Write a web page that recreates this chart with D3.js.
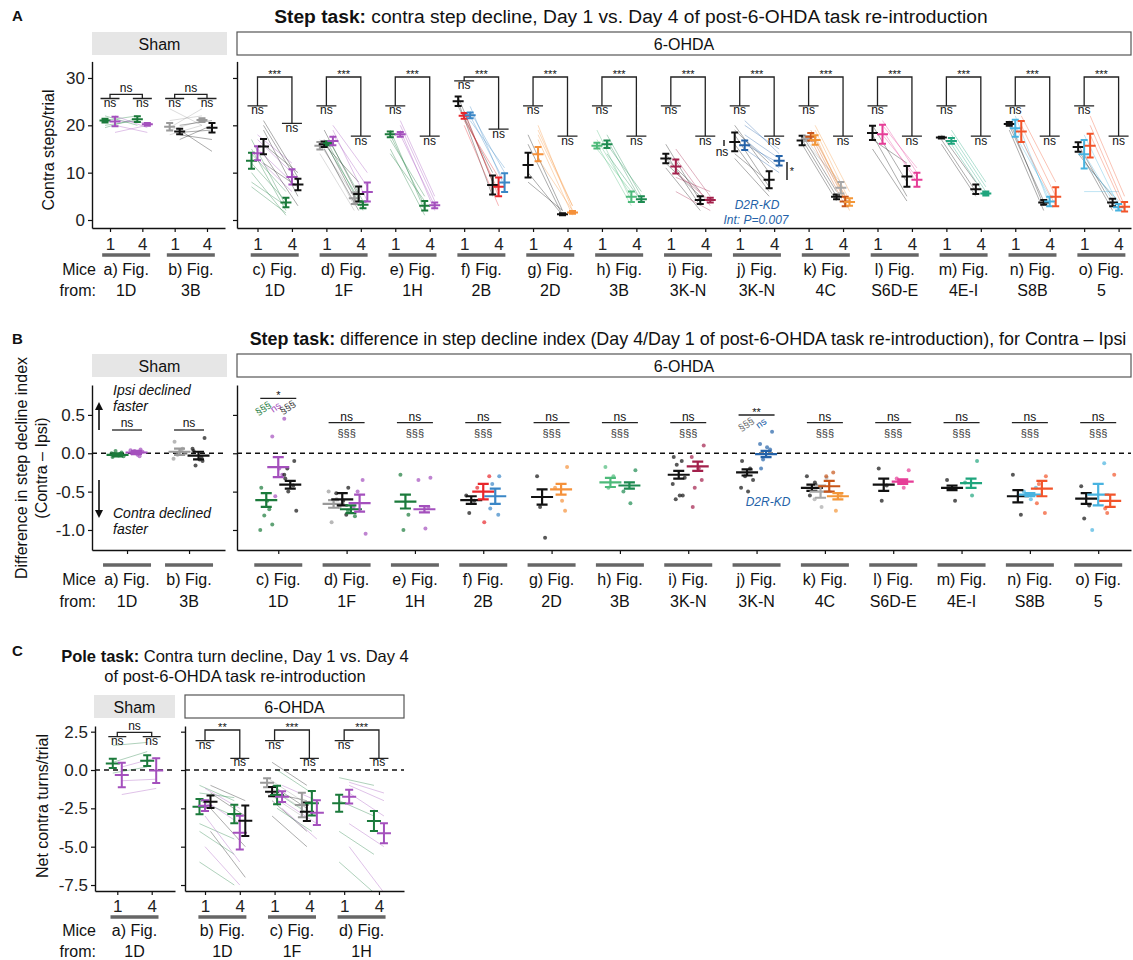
<!DOCTYPE html>
<html>
<head>
<meta charset="utf-8">
<script src="https://cdn.jsdelivr.net/npm/d3@7"></script>
<style>
  body { margin: 0; background: #fff; }
  svg { display: block; }
</style>
</head>
<body>
<svg id="fig" width="1133" height="960"></svg>
<script>
// colours of the mouse cohorts
const GREEN = '#1b7a3b', PURPLE = '#a450bd', BLACK = '#111111', GRAY = '#9a9a9a',
  RED = '#e8262b', BLUE = '#3a86c6', ORANGE = '#f5913a', HLIGHT = '#4dba7a', HDARK = '#1d8a50',
  CRIMSON = '#a3204b', JBLUE = '#2462a8', KGRAY = '#a8a8a8', KBROWN = '#c8561a', KORANGE = '#f39638',
  PINK = '#e63d97', TEAL = '#1fa57d', SKY = '#48b3e0', REDOR = '#f2542a';

// ---------- A / B : step task (groups a..o, a-b sham) ----------
const stepLetters = ['a', 'b', 'c', 'd', 'e', 'f', 'g', 'h', 'i', 'j', 'k', 'l', 'm', 'n', 'o'];
const stepFigs = ['1D', '3B', '1D', '1F', '1H', '2B', '2D', '3B', '3K-N', '3K-N', '4C', 'S6D-E', '4E-I', 'S8B', '5'];
const stepColors = [
  [GREEN, PURPLE], [GRAY, BLACK],
  [GREEN, PURPLE, BLACK], [GRAY, BLACK, GREEN, PURPLE], [GREEN, PURPLE], [BLACK, RED, BLUE],
  [BLACK, ORANGE], [HLIGHT, HDARK], [BLACK, CRIMSON], [BLACK, JBLUE], [BLACK, KGRAY, KBROWN, KORANGE],
  [BLACK, PINK], [BLACK, TEAL], [BLACK, SKY, REDOR], [BLACK, SKY, REDOR]
];
// [day1 mean, sem, day4 mean, sem] per cohort
const stepMeans = [
  [[21.0, 0.4, 21.3, 0.6], [20.8, 1.0, 20.2, 0.3]],
  [[19.7, 0.8, 21.1, 0.4], [18.7, 0.6, 19.5, 1.0]],
  [[12.5, 1.7, 3.7, 1.0], [14.1, 1.5, 9.1, 1.6], [15.5, 1.6, 7.5, 1.2]],
  [[15.7, 0.8, 4.6, 1.2], [16.0, 0.6, 5.5, 1.6], [16.2, 0.4, 3.2, 0.7], [16.7, 0.9, 5.9, 2.0]],
  [[18.1, 0.6, 3.0, 1.0], [18.1, 0.5, 3.1, 0.6]],
  [[25.1, 1.0, 7.4, 2.0], [22.0, 0.6, 7.0, 2.0], [22.1, 0.6, 7.9, 2.0]],
  [[11.6, 2.6, 1.2, 0.2], [13.9, 1.5, 1.6, 0.3]],
  [[15.7, 0.6, 4.9, 1.1], [16.0, 0.8, 4.4, 0.6]],
  [[13.0, 1.0, 4.2, 0.8], [11.3, 1.5, 4.2, 0.5]],
  [[16.5, 2.0, 8.5, 1.8], [15.8, 1.0, 12.5, 1.0]],
  [[16.8, 1.0, 4.9, 0.5], [17.2, 0.5, 6.8, 1.2], [17.6, 0.8, 3.9, 1.0], [16.9, 1.0, 3.8, 0.8]],
  [[18.4, 1.5, 9.2, 2.2], [18.1, 2.0, 8.5, 1.5]],
  [[17.4, 0.2, 6.5, 1.0], [16.7, 0.6, 5.6, 0.4]],
  [[20.3, 0.4, 3.7, 0.5], [19.4, 1.8, 3.9, 1.0], [18.7, 2.2, 4.9, 2.0]],
  [[15.4, 1.0, 3.7, 0.8], [13.9, 3.0, 2.7, 0.7], [15.7, 2.5, 2.8, 1.0]]
];
// individual mice [day1, day4]
const stepMice = [
  [[[21, 22], [20, 21], [22, 20], [19.5, 21.5]], [[22, 19.5], [18.5, 20], [21, 20.5], [20, 18.5]]],
  [[[23.5, 20], [19.5, 23.5], [19, 21], [18, 20], [21, 22]], [[19, 14.5], [18, 17], [20, 21], [17, 20], [18.5, 19]]],
  [[[17, 3], [15, 2], [12, 4], [10, 1], [8, 3], [14, 6], [7, 1.5]], [[17, 10], [15, 8], [18, 12], [13, 6]], [[20, 8], [19, 5], [16, 10], [14, 3], [21, 9], [12, 7]]],
  [[[17, 3], [16, 5], [14, 2]], [[19, 5], [17, 3], [16, 8], [15, 2]], [[17, 4], [15, 3], [16, 2]], [[20, 10], [18, 7], [19, 4]]],
  [[[19, 2], [18, 3], [15, 1], [17, 5], [14, 4]], [[20, 4], [19, 2], [18, 3], [21, 5]]],
  [[[26, 8], [25, 5], [24, 10]], [[22, 6], [23, 5], [21, 9], [20, 3]], [[23, 10], [22, 8], [21, 11], [24, 7]]],
  [[[18, 2], [10, 1], [8, 2], [16, 1]], [[20, 2], [18, 3], [17, 1], [13, 2], [19, 3]]],
  [[[19, 4], [17, 5], [16, 3], [15, 6]], [[18, 5], [17, 4], [14, 4], [16, 6]]],
  [[[16, 4], [14, 3], [13, 6], [11, 2], [12, 5]], [[15, 5], [13, 3], [10, 4], [9, 6], [6, 2]]],
  [[[20, 10], [18, 7], [16, 6], [14, 8], [13, 5], [19, 12]], [[21, 14], [18, 13], [17, 11], [16, 12], [20, 15], [15, 10]]],
  [[[18, 6], [16, 4], [17, 5]], [[17, 7], [16, 8]], [[18, 4], [17, 3], [19, 5]], [[19, 4], [17, 3], [18, 2], [20, 6]]],
  [[[20, 8], [18, 5], [17, 12], [15, 4]], [[21, 10], [19, 8], [18, 9], [20, 11]]],
  [[[18, 8], [17, 6], [16, 5]], [[18, 7], [17, 6], [16, 5], [19, 8]]],
  [[[21, 3], [20, 4], [19, 2]], [[22, 3], [20, 4], [18, 5]], [[22, 8], [20, 5], [17, 3]]],
  [[[16, 3], [15, 2], [14, 5]], [[18, 3], [14, 2], [12, 4], [6, 6]], [[22, 5], [20, 3], [18, 2]]]
];
const stepStars = ['ns', 'ns', '***', '***', '***', '***', '***', '***', '***', '***', '***', '***', '***', '***', '***'];
// heights where the day-1 / day-4 bracket legs end (annotation placement)
const bracketLegs = { default: [24.1, 17.7], c: [24.1, 20.4], f: [29.4, 19.2] };

// B: difference in step decline index, [mean, sem] per cohort
const declineMeans = [
  [[-0.02, 0.02], [0.01, 0.02]],
  [[0.02, 0.04], [-0.03, 0.05]],
  [[-0.61, 0.09], [-0.18, 0.13], [-0.41, 0.05]],
  [[-0.66, 0.05], [-0.60, 0.08], [-0.73, 0.05], [-0.65, 0.11]],
  [[-0.63, 0.09], [-0.73, 0.04]],
  [[-0.61, 0.05], [-0.50, 0.10], [-0.56, 0.10]],
  [[-0.57, 0.10], [-0.47, 0.07]],
  [[-0.38, 0.06], [-0.42, 0.04]],
  [[-0.28, 0.05], [-0.17, 0.06]],
  [[-0.25, 0.04], [-0.01, 0.04]],
  [[-0.45, 0.04], [-0.50, 0.08], [-0.43, 0.07], [-0.56, 0.04]],
  [[-0.41, 0.08], [-0.37, 0.03]],
  [[-0.45, 0.03], [-0.39, 0.06]],
  [[-0.56, 0.08], [-0.54, 0.02], [-0.46, 0.10]],
  [[-0.59, 0.07], [-0.54, 0.14], [-0.62, 0.08]]
];
const declinePoints = [
  [[-0.05, -0.02, 0.03, -0.04, 0, -0.03, 0.01], [0.02, 0.04, -0.02, 0.05, 0.01, 0, -0.04, 0.03]],
  [[0.15, 0.06, -0.02, 0, -0.07, 0.03], [0.2, 0.06, -0.08, -0.1, -0.16, 0.03, -0.05]],
  [[-0.45, -0.73, -0.81, -0.93, -1.0, -0.62], [0.45, 0.22, -0.2, -0.28, -0.56], [-0.1, -0.2, -0.33, -0.42, -0.5, -0.75, -0.28]],
  [[-0.5, -0.6, -0.9, -0.7], [-0.45, -0.52, -0.62, -0.8], [-0.82, -0.75], [-0.35, -0.5, -1.05, -0.7]],
  [[-0.28, -0.8, -1.0], [-0.32, -0.35, -0.98, -0.7]],
  [[-0.55, -0.62, -0.78], [-0.3, -0.45, -0.9], [-0.3, -0.4, -0.72, -0.8]],
  [[-0.3, -1.1, -0.7], [-0.18, -0.45, -0.62, -0.75]],
  [[-0.18, -0.3, -0.45], [-0.22, -0.5, -0.65]],
  [[-0.05, -0.1, -0.15, -0.32, -0.4, -0.55, -0.55, -0.6], [0.1, -0.05, -0.2, -0.35, -0.45, -0.7]],
  [[-0.1, -0.2, -0.3, -0.35, -0.45, -0.5], [0.28, 0.12, 0.08, 0.05, -0.08, -0.2]],
  [[-0.3, -0.38, -0.55], [-0.32, -0.6, -0.7], [-0.25, -0.3], [-0.55, -0.75]],
  [[-0.2, -0.42, -0.62], [-0.22, -0.33, -0.45]],
  [[-0.35, -0.62], [-0.1, -0.38, -0.55]],
  [[-0.28, -0.8], [-0.45, -0.5, -0.6], [-0.3, -0.4, -0.65, -0.78]],
  [[-0.43, -0.68, -0.85], [-0.13, -1.0], [-0.28, -0.78, -0.72]]
];
const declineSig = ['ns', 'ns', '*', 'ns', 'ns', 'ns', 'ns', 'ns', 'ns', '**', 'ns', 'ns', 'ns', 'ns', 'ns'];

// ---------- C : pole task ----------
const poleLetters = ['a', 'b', 'c', 'd'];
const poleFigs = ['1D', '1D', '1F', '1H'];
const poleColors = [[GREEN, PURPLE], [GREEN, PURPLE, BLACK], [GRAY, BLACK, GREEN, PURPLE], [GREEN, PURPLE]];
const poleMeans = [
  [[0.43, 0.3, 0.61, 0.35], [-0.33, 0.8, -0.04, 0.8]],
  [[-2.39, 0.5, -2.87, 0.6], [-2.33, 0.35, -4.09, 1.1], [-2.07, 0.4, -3.31, 1.0]],
  [[-0.83, 0.3, -2.28, 0.8], [-1.41, 0.3, -2.72, 0.6], [-1.63, 0.6, -2.17, 0.8], [-1.74, 0.35, -2.78, 0.8]],
  [[-2.17, 0.55, -3.33, 0.65], [-1.74, 0.45, -4.13, 0.65]]
];
const poleMice = [
  [[[1.6, 1.8], [-0.2, 0.2], [0.5, 1.2]], [[-0.7, -0.6], [-1.6, -1.2], [0.2, 0.8]]],
  [[[-1, -2], [-2, -3], [-3.5, -4.5], [-6, -7.5], [-4, -5.5], [-1.5, -1.8]], [[-2, -3.5], [-5, -7.5], [-3, -6], [-1.2, -2.5]], [[-1, -2], [-1.5, -3], [-2.5, -5], [-4, -7]]],
  [[[-0.5, -2], [-1, -2.5], [-1.5, -3]], [[0.5, -1], [-1, -2.5], [-2, -4], [-3, -5], [-1.5, -2]], [[0, -1.5], [-1.5, -3], [-2.5, -4]], [[-1, -2], [-2, -3.5], [-2.5, -4.5]]],
  [[[-0.5, -1], [-2, -3], [-4, -5.5], [-6, -8]], [[-1, -2], [-1.5, -3], [-3.5, -5], [-5, -8], [-0.8, -1.5]]]
];
const poleStars = ['ns', '**', '***', '***'];

// ---------- drawing ----------
const FONT = '"Liberation Sans", Arial, Helvetica, sans-serif';
const svg = d3.select('#fig').attr('font-family', FONT);

function txt(g, x, y, s, o = {}) {
  const t = g.append('text').attr('x', x).attr('y', y).text(s)
    .attr('font-size', o.size || 16).attr('fill', o.fill || '#111')
    .attr('text-anchor', o.anchor || 'middle');
  if (o.weight) t.attr('font-weight', o.weight);
  if (o.italic) t.attr('font-style', 'italic');
  if (o.rotate != null) t.attr('transform', `rotate(${o.rotate},${x},${y})`);
  return t;
}

function strip(x0, x1, y0, y1, label, sham) {
  svg.append('rect').attr('x', x0).attr('y', y0).attr('width', x1 - x0).attr('height', y1 - y0)
    .attr('fill', sham ? '#e6e6e6' : '#fff').attr('stroke', sham ? 'none' : '#555').attr('stroke-width', 1.2);
  txt(svg, (x0 + x1) / 2, (y0 + y1) / 2 + 6, label, { size: 16 });
}

function styleAxis(g) {
  g.attr('font-family', FONT).attr('font-size', 17);
  g.select('.domain').attr('stroke', '#111').attr('stroke-width', 1.4);
  g.selectAll('.tick line').attr('stroke', '#111').attr('stroke-width', 1.2);
  g.selectAll('.tick text').attr('fill', '#222');
}

// facets after the first one keep their tick marks but lose the labels
function yAxis(y, x, ticks, labels) {
  const fmt = ticks.every(Number.isInteger) ? d3.format('d') : d => d.toFixed(1);
  const g = svg.append('g').attr('transform', `translate(${x},0)`)
    .call(d3.axisLeft(y).tickValues(ticks).tickSize(4).tickSizeOuter(0).tickPadding(3)
      .tickFormat(labels ? fmt : () => ''));
  styleAxis(g);
}

function xAxis(x, yPos, ticks, fmt, pad) {
  const g = svg.append('g').attr('transform', `translate(0,${yPos})`)
    .call(d3.axisBottom(x).tickValues(ticks).tickSize(4).tickSizeOuter(0).tickPadding(pad).tickFormat(fmt));
  styleAxis(g);
}

function dodge(n, w) {
  return n === 1 ? [0] : d3.range(n).map(i => -w / 2 + i * w / (n - 1));
}

function errBar(g, x, m, s, color, y, hm, hc, sw) {
  const yl = y(m - s), yh = y(m + s), ym = y(m);
  g.append('path')
    .attr('d', `M${x},${yl}V${yh}M${x - hc},${yl}H${x + hc}M${x - hc},${yh}H${x + hc}M${x - hm},${ym}H${x + hm}`)
    .attr('stroke', color).attr('stroke-width', sw || 2).attr('fill', 'none');
}

function clipRect(id, x0, x1, top, bottom) {
  svg.append('clipPath').attr('id', id).append('rect')
    .attr('x', x0).attr('y', top).attr('width', x1 - x0).attr('height', bottom - top);
}

// facet with day1 / day4 pairs
function pairedFacet(o) {
  clipRect(o.id, o.x0, o.x1, o.top, o.bottom);
  const gl = svg.append('g').attr('clip-path', `url(#${o.id})`);
  o.gids.forEach((gi, j) => {
    const cols = o.colors[gi], off = dodge(cols.length, o.dw[cols.length]);
    cols.forEach((c, s) => {
      const xa = o.x(2 * j) + off[s], xb = o.x(2 * j + 1) + off[s];
      o.mice[gi][s].forEach(([a, b]) => {
        gl.append('line').attr('x1', xa).attr('x2', xb).attr('y1', o.y(a)).attr('y2', o.y(b))
          .attr('stroke', c).attr('stroke-width', 1).attr('stroke-opacity', 0.35);
      });
    });
  });
  o.gids.forEach((gi, j) => {
    const cols = o.colors[gi], off = dodge(cols.length, o.dw[cols.length]);
    cols.forEach((c, s) => {
      const [m1, s1, m4, s4] = o.means[gi][s];
      errBar(gl, o.x(2 * j) + off[s], m1, s1, c, o.y, o.hm, o.hc);
      errBar(gl, o.x(2 * j + 1) + off[s], m4, s4, c, o.y, o.hm, o.hc);
    });
  });
}

function groupLabels(centers, gids, letters, figs, yLine, yRow1, yRow2) {
  centers.forEach((cx, j) => {
    svg.append('line').attr('x1', cx - 24).attr('x2', cx + 24).attr('y1', yLine).attr('y2', yLine)
      .attr('stroke', '#666').attr('stroke-width', 3.5);
    txt(svg, cx, yRow1, `${letters[gids[j]]}) Fig.`, { size: 16 });
    txt(svg, cx, yRow2, figs[gids[j]], { size: 16 });
  });
}

function miceFrom(yRow1, yRow2) {
  txt(svg, 96, yRow1, 'Mice', { size: 16, anchor: 'end' });
  txt(svg, 96, yRow2, 'from:', { size: 16, anchor: 'end' });
}

function sigPath(d, w) {
  svg.append('path').attr('d', d).attr('fill', 'none').attr('stroke', '#222').attr('stroke-width', w || 1.3);
}

// ============ PANEL A ============
txt(svg, 12, 21, 'A', { size: 15, weight: 'bold', anchor: 'start' });
const tA = txt(svg, 631, 23, '', { size: 19.2 });
tA.append('tspan').attr('font-weight', 'bold').text('Step task:');
tA.append('tspan').text(' contra step decline, Day 1 vs. Day 4 of post-6-OHDA task re-introduction');

strip(92, 227, 32, 55, 'Sham', true);
strip(237, 1131, 32, 55, '6-OHDA', false);

const yA = d3.scaleLinear().domain([-1.69, 33.5]).range([228, 61.4]);
const xAsham = d3.scaleLinear().domain([-0.557, 3.557]).range([92, 225]);
const xAohda = d3.scaleLinear().domain([-0.595, 25.36]).range([237, 1131]);
const shamIds = [0, 1];
const ohdaIds = d3.range(2, 15);

pairedFacet({ id: 'clipAs', x: xAsham, y: yA, gids: shamIds, colors: stepColors, means: stepMeans, mice: stepMice,
  dw: { 2: 10, 3: 12, 4: 13 }, hm: 5.5, hc: 3.5, x0: 92, x1: 225, top: 61, bottom: 228 });
pairedFacet({ id: 'clipAo', x: xAohda, y: yA, gids: ohdaIds, colors: stepColors, means: stepMeans, mice: stepMice,
  dw: { 2: 10, 3: 12, 4: 13 }, hm: 5.5, hc: 3.5, x0: 237, x1: 1131, top: 61, bottom: 228 });

yAxis(yA, 92, [0, 10, 20, 30], true);
yAxis(yA, 237, [0, 10, 20, 30], false);
xAxis(xAsham, 228, d3.range(4), i => (i % 2 ? '4' : '1'), 6);
xAxis(xAohda, 228, d3.range(26), i => (i % 2 ? '4' : '1'), 6);
txt(svg, 0, 0, 'Contra steps/trial', { size: 16 }).attr('transform', 'translate(54,150) rotate(-90)');

// sham brackets
shamIds.forEach((gi, j) => {
  const xl = xAsham(2 * j), xr = xAsham(2 * j + 1);
  sigPath(`M${xl},98.5V94.3H${xr}V98.5M${xl - 9.5},98.5H${xl + 9.5}M${xr - 9.5},98.5H${xr + 9.5}`);
  txt(svg, (xl + xr) / 2, 91.5, stepStars[gi], { size: 12 });
  txt(svg, xl, 106.5, 'ns', { size: 12 });
  txt(svg, xr, 106.5, 'ns', { size: 12 });
});
// 6-OHDA brackets
ohdaIds.forEach((gi, j) => {
  const xl = xAohda(2 * j), xr = xAohda(2 * j + 1);
  const legs = bracketLegs[stepLetters[gi]] || bracketLegs.default;
  const top = yA(30.2), lb = yA(legs[0]), rb = yA(legs[1]);
  sigPath(`M${xl},${lb}V${top}H${xr}V${rb}M${xl - 10},${lb}H${xl + 10}M${xr - 10},${rb}H${xr + 10}`);
  txt(svg, (xl + xr) / 2, top + 1, stepStars[gi], { size: 11 });
  txt(svg, xl, lb + 8.5, 'ns', { size: 12 });
  txt(svg, xr, rb + 8.5, 'ns', { size: 12 });
});
// j) extra comparisons
sigPath('M724,140V146', 1.5);
txt(svg, 722, 156, 'ns', { size: 12 });
sigPath('M787,162V180', 1.5);
txt(svg, 792, 175, '*', { size: 11 });
txt(svg, 757, 209, 'D2R-KD', { size: 12, italic: true, fill: JBLUE });
txt(svg, 756, 224, 'Int: P=0.007', { size: 12, italic: true, fill: JBLUE });

groupLabels(shamIds.map((g, j) => (xAsham(2 * j) + xAsham(2 * j + 1)) / 2), shamIds, stepLetters, stepFigs, 255, 275, 296);
groupLabels(ohdaIds.map((g, j) => (xAohda(2 * j) + xAohda(2 * j + 1)) / 2), ohdaIds, stepLetters, stepFigs, 255, 275, 296);
miceFrom(275, 296);

// ============ PANEL B ============
txt(svg, 12, 344, 'B', { size: 15, weight: 'bold', anchor: 'start' });
const tB = txt(svg, 688, 345, '', { size: 17.9 });
tB.append('tspan').attr('font-weight', 'bold').text('Step task:');
tB.append('tspan').text(' difference in step decline index (Day 4/Day 1 of post-6-OHDA task re-introduction), for Contra \u2013 Ipsi');

strip(92, 227, 354, 377, 'Sham', true);
strip(237, 1131, 354, 377, '6-OHDA', false);

const yB = d3.scaleLinear().domain([-1.261, 0.89]).range([550, 385]);
const xBsham = d3.scaleLinear().domain([-0.565, 1.58]).range([92, 225]);
const xBohda = d3.scaleLinear().domain([-0.604, 12.48]).range([237, 1131]);

// zero reference
[[92, 225], [237, 1131]].forEach(([a, b]) => {
  svg.append('line').attr('x1', a).attr('x2', b).attr('y1', yB(0)).attr('y2', yB(0))
    .attr('stroke', '#111').attr('stroke-width', 1.4).attr('stroke-dasharray', '5,4');
});

const jitter = [-5, 3, -2, 6, -6, 1, 4, -3];
function dotFacet(x, gids, id, x0, x1) {
  clipRect(id, x0, x1, 385, 550);
  const g = svg.append('g').attr('clip-path', `url(#${id})`);
  gids.forEach((gi, j) => {
    const cols = stepColors[gi], off = dodge(cols.length, { 2: 19, 3: 24, 4: 26 }[cols.length]);
    cols.forEach((c, s) => {
      declinePoints[gi][s].forEach((v, k) => {
        g.append('circle').attr('cx', x(j) + off[s] + jitter[(k + s * 3) % 8]).attr('cy', yB(v)).attr('r', 2)
          .attr('fill', c).attr('fill-opacity', 0.7);
      });
    });
    cols.forEach((c, s) => {
      const [m, se] = declineMeans[gi][s];
      errBar(g, x(j) + off[s], m, se, c, yB, 11, 5.5, 2.2);
    });
  });
}
dotFacet(xBsham, shamIds, 'clipBs', 92, 225);
dotFacet(xBohda, ohdaIds, 'clipBo', 237, 1131);

yAxis(yB, 92, [0.5, 0, -0.5, -1], true);
yAxis(yB, 237, [0.5, 0, -0.5, -1], false);
xAxis(xBsham, 550, d3.range(2), () => '', 3);
xAxis(xBohda, 550, d3.range(13), () => '', 3);
const yl = txt(svg, 0, 0, '', { size: 16 }).attr('transform', 'translate(27,468) rotate(-90)');
yl.append('tspan').attr('x', 0).attr('dy', 0).text('Difference in step decline index');
yl.append('tspan').attr('x', 0).attr('dy', 20).text('(Contra \u2013 Ipsi)');

// direction arrows
function arrow(x, y0, y1) {
  const dir = y1 < y0 ? -1 : 1;
  svg.append('line').attr('x1', x).attr('x2', x).attr('y1', y0).attr('y2', y1 - dir * 6)
    .attr('stroke', '#111').attr('stroke-width', 1.6);
  svg.append('path').attr('d', `M${x - 4},${y1 - dir * 8}L${x},${y1}L${x + 4},${y1 - dir * 8}Z`).attr('fill', '#111');
}
arrow(99, 430, 402);
arrow(99, 480, 518);
txt(svg, 113, 395, 'Ipsi declined', { size: 14, italic: true, anchor: 'start' });
txt(svg, 113, 411, 'faster', { size: 14, italic: true, anchor: 'start' });
txt(svg, 113, 518, 'Contra declined', { size: 14, italic: true, anchor: 'start' });
txt(svg, 113, 534, 'faster', { size: 14, italic: true, anchor: 'start' });

// significance marks
shamIds.forEach((gi, j) => {
  const cx = xBsham(j);
  sigPath(`M${cx - 15},430H${cx + 15}`);
  txt(svg, cx, 427, declineSig[gi], { size: 12 });
});
ohdaIds.forEach((gi, j) => {
  const cx = xBohda(j);
  const special = declineSig[gi] !== 'ns';
  const ly = gi === 2 ? 398.3 : gi === 9 ? 415 : 422.7;
  sigPath(`M${cx - 18},${ly}H${cx + 18}`);
  if (special) {
    txt(svg, cx, ly + 1, declineSig[gi], { size: 11 });
  } else {
    txt(svg, cx, ly - 2, declineSig[gi], { size: 12 });
    txt(svg, cx, 437, '\u00a7\u00a7\u00a7', { size: 11, fill: '#333' });
  }
});
txt(svg, 265, 411, '\u00a7\u00a7\u00a7', { size: 10, fill: GREEN, rotate: -35 });
txt(svg, 277.5, 410, 'ns', { size: 10, fill: PURPLE, rotate: -35 });
txt(svg, 289.5, 410, '\u00a7\u00a7\u00a7', { size: 10, fill: '#333', rotate: -35 });
txt(svg, 748, 427, '\u00a7\u00a7\u00a7', { size: 10, fill: '#666', rotate: -35 });
txt(svg, 763, 426, 'ns', { size: 10, fill: JBLUE, rotate: -35 });
txt(svg, 768, 506, 'D2R-KD', { size: 12, italic: true, fill: JBLUE });

groupLabels(shamIds.map((g, j) => xBsham(j)), shamIds, stepLetters, stepFigs, 565, 585, 607);
groupLabels(ohdaIds.map((g, j) => xBohda(j)), ohdaIds, stepLetters, stepFigs, 565, 585, 607);
miceFrom(585, 607);

// ============ PANEL C ============
txt(svg, 12, 656, 'C', { size: 15, weight: 'bold', anchor: 'start' });
const tC = txt(svg, 235, 662, '', { size: 16.5 });
tC.append('tspan').attr('font-weight', 'bold').text('Pole task:');
tC.append('tspan').text(' Contra turn decline, Day 1 vs. Day 4');
txt(svg, 235, 682, 'of post-6-OHDA task re-introduction', { size: 16.5 });

strip(94, 175, 695, 718, 'Sham', true);
strip(185, 404, 695, 718, '6-OHDA', false);

const yC = d3.scaleLinear().domain([-7.89, 2.87]).range([891, 726]);
const xCsham = d3.scaleLinear().domain([-0.648, 1.677]).range([95, 175]);
const xCohda = d3.scaleLinear().domain([-0.575, 5.72]).range([185, 404]);
const poleSham = [0], poleOhda = [1, 2, 3];

[[95, 175], [185, 404]].forEach(([a, b]) => {
  svg.append('line').attr('x1', a).attr('x2', b).attr('y1', yC(0)).attr('y2', yC(0))
    .attr('stroke', '#111').attr('stroke-width', 1.4).attr('stroke-dasharray', '5,4');
});

pairedFacet({ id: 'clipCs', x: xCsham, y: yC, gids: poleSham, colors: poleColors, means: poleMeans, mice: poleMice,
  dw: { 2: 9, 3: 11, 4: 15 }, hm: 7, hc: 4, x0: 95, x1: 175, top: 726, bottom: 891 });
pairedFacet({ id: 'clipCo', x: xCohda, y: yC, gids: poleOhda, colors: poleColors, means: poleMeans, mice: poleMice,
  dw: { 2: 10, 3: 11, 4: 15 }, hm: 7, hc: 4, x0: 185, x1: 404, top: 726, bottom: 891 });

yAxis(yC, 95, [2.5, 0, -2.5, -5, -7.5], true);
yAxis(yC, 185, [2.5, 0, -2.5, -5, -7.5], false);
xAxis(xCsham, 891, d3.range(2), i => (i % 2 ? '4' : '1'), 5);
xAxis(xCohda, 891, d3.range(6), i => (i % 2 ? '4' : '1'), 5);
txt(svg, 0, 0, 'Net contra turns/trial', { size: 16 }).attr('transform', 'translate(48,806) rotate(-90)');

// sham bracket
{
  const xl = xCsham(0), xr = xCsham(1);
  sigPath(`M${xl},736.7V732.3H${xr}V736.7M${xl - 9},736.7H${xl + 9}M${xr - 9},736.7H${xr + 9}`);
  txt(svg, (xl + xr) / 2, 729.5, poleStars[0], { size: 12 });
  txt(svg, xl, 744.7, 'ns', { size: 12 });
  txt(svg, xr, 744.7, 'ns', { size: 12 });
}
poleOhda.forEach((gi, j) => {
  const xl = xCohda(2 * j), xr = xCohda(2 * j + 1);
  const top = 730, lb = 740.7, rb = 758.3;
  sigPath(`M${xl},${lb}V${top}H${xr}V${rb}M${xl - 9.5},${lb}H${xl + 9.5}M${xr - 9.5},${rb}H${xr + 9.5}`);
  txt(svg, (xl + xr) / 2, top + 1, poleStars[gi], { size: 11 });
  txt(svg, xl, lb + 8, 'ns', { size: 12 });
  txt(svg, xr, rb + 8, 'ns', { size: 12 });
});

groupLabels([(xCsham(0) + xCsham(1)) / 2], poleSham, poleLetters, poleFigs, 917, 936, 957);
groupLabels(poleOhda.map((g, j) => (xCohda(2 * j) + xCohda(2 * j + 1)) / 2), poleOhda, poleLetters, poleFigs, 917, 936, 957);
miceFrom(936, 957);
</script>
</body>
</html>
